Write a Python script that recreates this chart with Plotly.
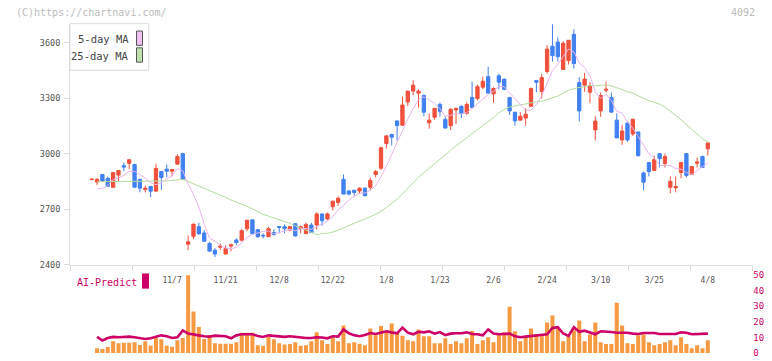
import plotly.graph_objects as go

W, H = 772, 361

# ---------------- data ----------------
opens = [2860, 2846, 2887, 2866, 2818, 2884, 2935, 2948, 2941, 2861,
         2806, 2823, 2797, 2903, 2916, 2905, 2943, 3000, 2510, 2553,
         2605, 2571, 2514, 2478, 2494, 2457, 2500, 2533, 2532, 2594,
         2642, 2589, 2558, 2551, 2573, 2606, 2605, 2587, 2621, 2594,
         2567, 2614, 2614, 2674, 2647, 2713, 2736, 2861, 2798, 2802,
         2798, 2813, 2818, 2887, 2921, 3055, 3103, 3177, 3154, 3279,
         3338, 3327, 3314, 3167, 3197, 3266, 3185, 3151, 3236, 3256,
         3218, 3304, 3298, 3359, 3416, 3323, 3421, 3403, 3304, 3224,
         3181, 3192, 3256, 3395, 3336, 3444, 3581, 3603, 3455, 3503,
         3645, 3384, 3370, 3332, 3128, 3231, 3343, 3304, 3181, 3074,
         3165, 3106, 3117, 2895, 2952, 2909, 3000, 2946, 2818, 2815,
         2898, 3000, 2887, 2948, 2984, 3026]
highs = [2863, 2868, 2887, 2877, 2898, 2909, 2951, 2967, 2946, 2861,
         2827, 2823, 2946, 2903, 2941, 2914, 2996, 3005, 2557, 2619,
         2626, 2587, 2523, 2489, 2514, 2503, 2512, 2541, 2592, 2640,
         2642, 2589, 2569, 2603, 2592, 2608, 2617, 2610, 2621, 2610,
         2628, 2626, 2683, 2674, 2681, 2743, 2768, 2887, 2804, 2802,
         2818, 2818, 2871, 2912, 3037, 3096, 3108, 3177, 3309, 3338,
         3396, 3348, 3320, 3217, 3245, 3277, 3202, 3245, 3245, 3261,
         3277, 3389, 3373, 3416, 3469, 3359, 3432, 3403, 3304, 3224,
         3224, 3245, 3357, 3395, 3432, 3587, 3704, 3629, 3608, 3613,
         3672, 3414, 3437, 3387, 3202, 3330, 3389, 3330, 3218, 3154,
         3174, 3186, 3117, 2903, 2952, 2989, 3000, 3000, 2877, 2877,
         2952, 3000, 2930, 2978, 2989, 3058]
lows = [2860, 2831, 2848, 2823, 2815, 2852, 2905, 2916, 2818, 2791,
        2791, 2765, 2797, 2804, 2871, 2877, 2943, 2857, 2478, 2537,
        2562, 2526, 2468, 2441, 2480, 2457, 2471, 2505, 2525, 2580,
        2564, 2544, 2542, 2551, 2557, 2569, 2569, 2580, 2551, 2569,
        2567, 2573, 2590, 2610, 2640, 2692, 2717, 2781, 2775, 2768,
        2783, 2772, 2802, 2871, 2911, 3028, 3044, 3071, 3149, 3257,
        3316, 3249, 3202, 3135, 3183, 3199, 3138, 3128, 3160, 3192,
        3210, 3245, 3288, 3348, 3327, 3274, 3348, 3343, 3209, 3151,
        3181, 3151, 3256, 3332, 3298, 3432, 3498, 3498, 3455, 3482,
        3460, 3174, 3334, 3272, 3071, 3199, 3330, 3224, 3085, 3048,
        3064, 3096, 2984, 2802, 2877, 2909, 2925, 2925, 2786, 2791,
        2866, 2871, 2887, 2925, 2925, 2989]
closes = [2862, 2861, 2852, 2823, 2898, 2909, 2927, 2967, 2818, 2813,
          2813, 2797, 2920, 2871, 2905, 2914, 2984, 2861, 2523, 2619,
          2566, 2526, 2473, 2457, 2500, 2487, 2507, 2519, 2583, 2640,
          2567, 2551, 2555, 2594, 2562, 2601, 2594, 2605, 2555, 2605,
          2617, 2573, 2674, 2637, 2674, 2743, 2759, 2781, 2781, 2790,
          2813, 2772, 2855, 2903, 3032, 3096, 3089, 3151, 3263, 3338,
          3370, 3338, 3224, 3181, 3245, 3229, 3138, 3240, 3245, 3218,
          3266, 3250, 3362, 3391, 3327, 3352, 3386, 3348, 3231, 3177,
          3202, 3213, 3352, 3386, 3411, 3565, 3530, 3524, 3597, 3613,
          3487, 3231, 3403, 3368, 3176, 3314, 3348, 3224, 3085, 3122,
          3074, 3186, 2989, 2845, 2903, 2968, 2973, 2984, 2850, 2822,
          2952, 2882, 2930, 2955, 2925, 3058]

ma5 = [None, 2809, 2813, 2827, 2859, 2869, 2882, 2905, 2904, 2887,
       2868, 2842, 2832, 2843, 2861, 2881, 2919, 2907, 2837, 2780,
       2711, 2619, 2541, 2528, 2504, 2489, 2485, 2494, 2519, 2547,
       2563, 2572, 2579, 2581, 2566, 2573, 2581, 2591, 2583, 2592,
       2595, 2591, 2605, 2621, 2635, 2660, 2697, 2719, 2748, 2771,
       2785, 2787, 2802, 2827, 2875, 2932, 2995, 3054, 3126, 3187,
       3242, 3292, 3307, 3290, 3272, 3243, 3203, 3207, 3219, 3214,
       3221, 3244, 3268, 3297, 3319, 3336, 3364, 3361, 3329, 3299,
       3269, 3234, 3235, 3266, 3313, 3385, 3449, 3483, 3525, 3566,
       3550, 3490, 3466, 3420, 3333, 3298, 3322, 3286, 3229, 3219,
       3171, 3138, 3091, 3043, 2999, 2978, 2936, 2935, 2936, 2919,
       2916, 2898, 2887, 2908, 2929, 2950]
ma25 = [None, 2848, 2848, 2848, 2848, 2849, 2850, 2850, 2850, 2850,
        2849, 2848, 2849, 2850, 2852, 2855, 2858, 2861, 2849, 2837,
        2825, 2813, 2801, 2789, 2778, 2763, 2749, 2736, 2726, 2716,
        2702, 2687, 2671, 2662, 2652, 2643, 2635, 2623, 2610, 2598,
        2586, 2570, 2562, 2567, 2569, 2576, 2585, 2598, 2611, 2622,
        2635, 2646, 2659, 2672, 2688, 2709, 2730, 2754, 2781, 2812,
        2843, 2873, 2897, 2922, 2948, 2972, 2995, 3018, 3042, 3064,
        3085, 3104, 3128, 3152, 3173, 3195, 3220, 3239, 3252, 3258,
        3262, 3267, 3275, 3280, 3283, 3291, 3299, 3311, 3327, 3342,
        3352, 3356, 3363, 3368, 3366, 3368, 3372, 3366, 3354, 3346,
        3335, 3327, 3312, 3297, 3286, 3277, 3267, 3252, 3231, 3207,
        3183, 3157, 3133, 3107, 3080, 3063]

volume = [None, 3.1, 2.5, 3.8, 7.6, 6.3, 6.5, 6.5, 6.9, 5.2,
          7.6, 4.8, 9.6, 8.8, 4.6, 4.0, 8.2, 9.6, 49.7, 26.6,
          16.6, 9.0, 11.3, 6.3, 5.9, 5.9, 5.9, 6.9, 13.0, 13.0,
          13.0, 5.0, 4.6, 10.5, 8.8, 6.3, 5.5, 5.7, 6.9, 4.6,
          5.0, 7.6, 13.2, 8.2, 5.7, 9.6, 7.6, 17.6, 6.3, 6.9,
          5.9, 5.0, 15.7, 11.3, 17.2, 13.9, 18.9, 13.0, 11.0, 8.2,
          7.6, 15.1, 10.7, 10.7, 6.3, 6.3, 9.4, 5.7, 7.6, 6.3,
          9.4, 14.0, 5.7, 8.2, 10.1, 6.9, 12.6, 13.2, 29.6, 13.9,
          7.6, 10.1, 15.7, 11.3, 10.7, 19.5, 23.9, 15.7, 7.6, 10.7,
          14.5, 20.8, 7.6, 11.9, 19.5, 6.9, 5.7, 5.7, 32.1, 17.6,
          6.3, 5.7, 11.3, 11.9, 6.9, 5.0, 5.7, 6.9, 8.2, 5.0,
          10.1, 5.7, 3.1, 5.0, 3.1, 8.2]
ai_predict = [None, 10.3, 8.0, 9.6, 10.3, 10.1, 10.5, 10.5, 10.1, 9.6,
              9.0, 9.4, 10.3, 11.3, 10.7, 9.6, 10.1, 14.5, 12.4, 12.0,
              11.3, 10.7, 10.5, 11.1, 10.9, 10.7, 9.4, 11.3, 12.0, 12.0,
              12.0, 10.9, 10.3, 11.3, 10.9, 10.5, 10.3, 10.7, 10.3, 9.9,
              9.6, 9.6, 10.1, 9.9, 9.4, 10.7, 10.5, 15.1, 12.6, 11.3,
              10.7, 11.5, 12.8, 12.2, 13.0, 13.9, 13.2, 12.6, 16.2, 13.0,
              12.0, 13.6, 13.2, 13.9, 12.4, 13.4, 11.5, 12.4, 12.6, 12.6,
              13.2, 12.2, 12.0, 11.3, 15.1, 12.4, 12.0, 12.0, 12.4, 10.7,
              10.1, 10.5, 10.9, 11.5, 12.0, 12.0, 16.0, 16.5, 12.5, 11.0,
              16.5, 13.6, 14.3, 13.2, 12.0, 13.9, 13.8, 13.4, 13.0, 13.0,
              13.0, 12.4, 12.2, 12.8, 12.8, 12.8, 12.2, 12.2, 12.2, 12.2,
              13.2, 13.0, 12.0, 12.2, 12.2, 12.4]

tick_labels = ["11/7", "11/21", "12/8", "12/22", "1/8", "1/23",
               "2/6", "2/24", "3/10", "3/25", "4/8"]
tick_label_idx = [15, 25, 35, 45, 55, 65, 75, 85, 95, 105, 115]
price_ticks = [2400, 2700, 3000, 3300, 3600]
vol_ticks = [0, 10, 20, 30, 40, 50]

# ---------------- layout helpers ----------------
n = len(closes)
xs = list(range(n))
XR = [-4.05, 123.3]
div_ticks = [XR[0] + (XR[1] - XR[0]) * k / 11 for k in range(12)]
div_ticks[-1] -= 0.01

def px(x):
    return x / W

def py(y):
    return 1 - y / H

MONO = "DejaVu Sans Mono"
RED = "#f0503c"
BLUE = "#4080f0"

fig = go.Figure()
fig.add_trace(go.Candlestick(
    x=xs, open=opens, high=highs, low=lows, close=closes,
    increasing=dict(line=dict(color=RED, width=1), fillcolor=RED),
    decreasing=dict(line=dict(color=BLUE, width=1), fillcolor=BLUE),
    whiskerwidth=0, xaxis="x", yaxis="y", hoverinfo="skip"))
fig.add_trace(go.Scatter(x=xs, y=ma25, mode="lines",
                         line=dict(color="#b4dca0", width=1),
                         xaxis="x", yaxis="y", hoverinfo="skip"))
fig.add_trace(go.Scatter(x=xs, y=ma5, mode="lines",
                         line=dict(color="#e8b4ec", width=1),
                         xaxis="x", yaxis="y", hoverinfo="skip"))
fig.add_trace(go.Bar(x=xs, y=volume, marker=dict(color="#f59a42", line=dict(width=0)),
                     xaxis="x2", yaxis="y2", hoverinfo="skip"))
fig.add_trace(go.Scatter(x=xs, y=ai_predict, mode="lines",
                         line=dict(color="#cc0066", width=2.6),
                         xaxis="x2", yaxis="y2", hoverinfo="skip"))

xdom = [px(70), px(752.3)]
fig.update_layout(
    width=W, height=H, autosize=False,
    margin=dict(l=0, r=0, t=0, b=0),
    paper_bgcolor="white", plot_bgcolor="white",
    showlegend=False, boxgap=0.12, bargap=0.25,
    font=dict(family=MONO, color="#555"),
    xaxis=dict(domain=xdom, range=XR, anchor="y",
               rangeslider=dict(visible=False),
               tickmode="array", tickvals=div_ticks, showticklabels=False,
               ticks="outside", ticklen=5, tickcolor="#dddddd",
               showline=True, linecolor="#dddddd", linewidth=1,
               showgrid=False, zeroline=False),
    yaxis=dict(domain=[py(268.3), py(24.5)], range=[2400, 3700], anchor="x",
               tickmode="array", tickvals=price_ticks,
               ticks="outside", ticklen=5, tickcolor="#dddddd",
               showline=True, linecolor="#dddddd", linewidth=1,
               tickfont=dict(family=MONO, size=8.5, color="#555"),
               ticklabelstandoff=2,
               showgrid=False, zeroline=False),
    xaxis2=dict(domain=xdom, range=XR, anchor="free", position=py(268.3),
                side="bottom",
                tickmode="array", tickvals=tick_label_idx, ticktext=tick_labels,
                ticks="", ticklabelstandoff=9,
                tickfont=dict(family=MONO, size=8, color="#555"),
                showline=False, showgrid=False, zeroline=False),
    yaxis2=dict(domain=[py(358), py(268.3)], range=[0, 56.5], anchor="x2", side="right",
                tickmode="array", tickvals=vol_ticks, ticks="",
                tickfont=dict(family=MONO, size=9, color="#cc0066"),
                showline=False, showgrid=False, zeroline=False),
)

ann = [
    dict(text="(C)https://chartnavi.com/", x=px(14), y=py(12.3), xanchor="left",
         font=dict(size=10, color="#bbbbbb")),
    dict(text="4092", x=px(757.3), y=py(12.3), xanchor="right",
         font=dict(size=10, color="#bbbbbb")),
    dict(text="5-day MA", x=px(130.5), y=py(39.8), xanchor="right",
         font=dict(size=10.5, color="#444")),
    dict(text="25-day MA", x=px(130.5), y=py(56.5), xanchor="right",
         font=dict(size=10.5, color="#444")),
    dict(text="AI-Predict", x=px(75), y=py(286), xanchor="left",
         font=dict(size=10, color="#cc0066")),
]
for a in ann:
    a.update(xref="paper", yref="paper", yanchor="middle", showarrow=False)
    a["font"]["family"] = MONO
fig.update_layout(annotations=ann)

shapes = [
    dict(type="rect", x0=px(70), x1=px(148.7), y0=py(71.3), y1=py(24),
         line=dict(color="#dddddd", width=1), fillcolor="white", layer="below"),
    dict(type="rect", x0=px(136.5), x1=px(142.5), y0=py(46), y1=py(31.5),
         line=dict(color="#555", width=1), fillcolor="#f0c0f0"),
    dict(type="rect", x0=px(136.5), x1=px(142.5), y0=py(63), y1=py(48.5),
         line=dict(color="#555", width=1), fillcolor="#c0e0b0"),
    dict(type="rect", x0=px(142), x1=px(149), y0=py(292.7), y1=py(277.3),
         line=dict(width=0), fillcolor="#cc0066"),
]
for s in shapes:
    s.update(xref="paper", yref="paper")
fig.update_layout(shapes=shapes)

# remove the page's default body margin so the figure fills the window exactly
fig.write_html("out.html",
               config={"displayModeBar": False, "staticPlot": True},
               post_script="document.body.style.margin='0';document.body.style.overflow='hidden';")
